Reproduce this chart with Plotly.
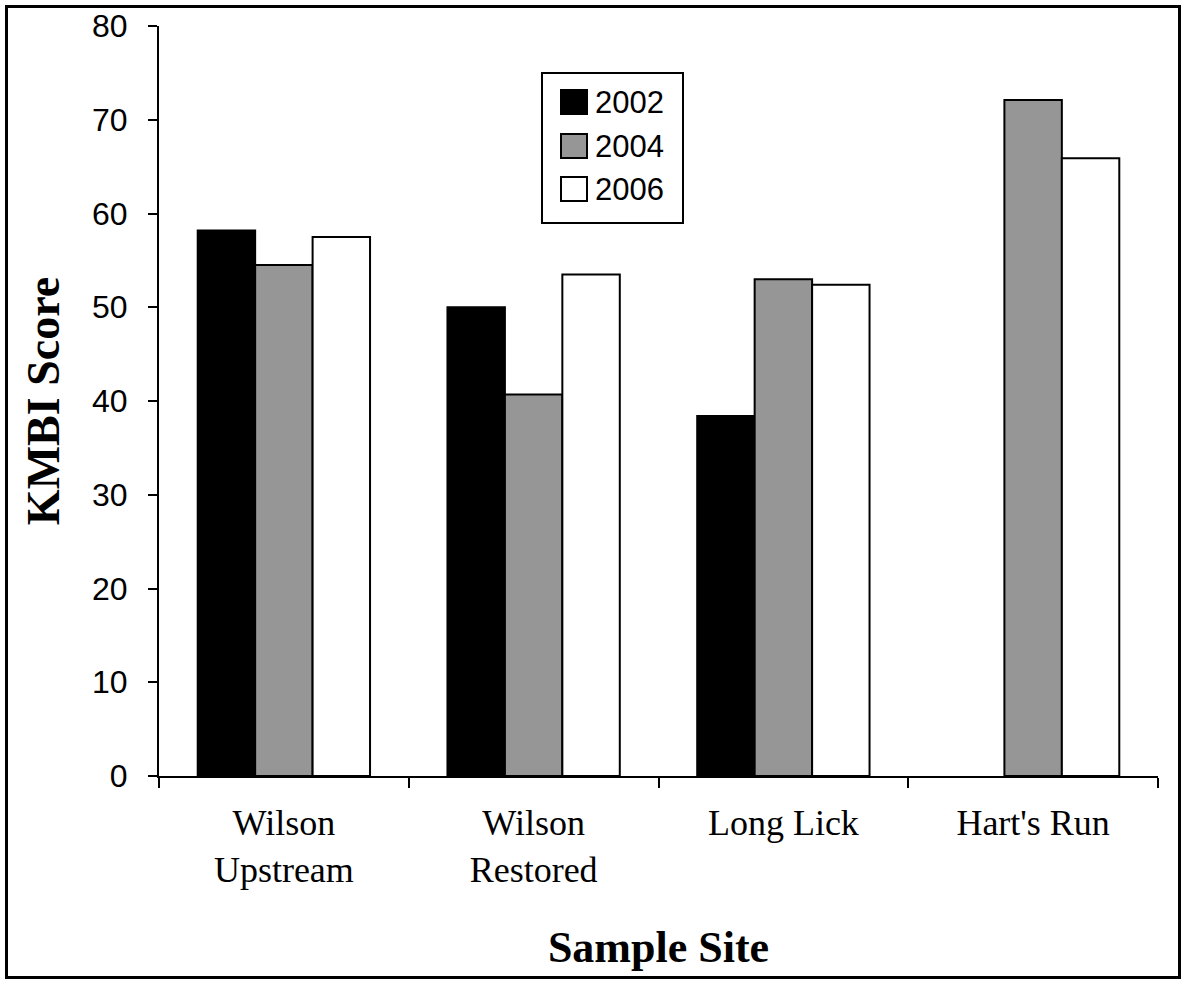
import plotly.graph_objects as go

# KMBI scores by sampling site and year
sites = ["Wilson<br>Upstream", "Wilson<br>Restored", "Long Lick", "Hart's Run"]
years = ["2002", "2004", "2006"]
score_2002 = [58.2, 50.0, 38.4, None]
score_2004 = [54.5, 40.7, 53.0, 72.1]
score_2006 = [57.5, 53.5, 52.4, 65.9]
y_ticks = [0, 10, 20, 30, 40, 50, 60, 70, 80]

series = [score_2002, score_2004, score_2006]
fills = ["#000000", "#969696", "#ffffff"]

W, H = 1182, 981
L, R, T, B = 159, 24, 26, 205
PW, PH = W - L - R, H - T - B


def px(x):
    return (x - L) / PW


def py(y):
    return (H - B - y) / PH


fig = go.Figure()
for name, vals, col in zip(years, series, fills):
    fig.add_trace(go.Bar(
        x=sites, y=vals, name=name,
        marker=dict(color=col, line=dict(color="#000000", width=2)),
        showlegend=False,
    ))

shapes = []
annotations = []

# Legend box with swatches
shapes.append(dict(type="rect", xref="paper", yref="paper",
                   x0=px(542), x1=px(683), y0=py(223), y1=py(73),
                   line=dict(color="#000000", width=2), fillcolor="#ffffff", layer="above"))
for name, col, cy in zip(years, fills, [102, 146, 189]):
    shapes.append(dict(type="rect", xref="paper", yref="paper",
                       x0=px(561), x1=px(587), y0=py(cy + 12), y1=py(cy - 12),
                       line=dict(color="#000000", width=2), fillcolor=col, layer="above"))
    annotations.append(dict(text=name, xref="paper", yref="paper",
                            x=px(593), y=py(cy), xanchor="left", yanchor="middle",
                            showarrow=False,
                            font=dict(family="Liberation Sans", size=31, color="#000000")))

# Outer frame
shapes.append(dict(type="rect", xref="paper", yref="paper",
                   x0=px(6.5), x1=px(1179.5), y0=py(977.5), y1=py(6.5),
                   line=dict(color="#000000", width=3), layer="above"))

fig.update_layout(
    width=W, height=H,
    margin=dict(l=L, r=R, t=T, b=B, autoexpand=False),
    paper_bgcolor="#ffffff", plot_bgcolor="#ffffff",
    barmode="group", bargap=0.31, bargroupgap=0,
    shapes=shapes, annotations=annotations,
    xaxis=dict(
        showline=True, linecolor="#000000", linewidth=2,
        ticks="outside", tickson="boundaries", ticklen=10, tickwidth=2, tickcolor="#000000",
        showgrid=False, zeroline=False,
        tickfont=dict(family="Liberation Serif", size=36, color="#000000"),
        ticklabelstandoff=14,
        title=dict(text="<b>Sample Site</b>", standoff=42,
                   font=dict(family="Liberation Serif", size=44, color="#000000")),
    ),
    yaxis=dict(
        range=[0, 80], tickvals=y_ticks,
        showline=True, linecolor="#000000", linewidth=2,
        ticks="outside", ticklen=9, tickwidth=2, tickcolor="#000000",
        showgrid=False, zeroline=False,
        tickfont=dict(family="Liberation Sans", size=32, color="#000000"),
        ticklabelstandoff=14,
        title=dict(text="<b>KMBI Score</b>", standoff=18,
                   font=dict(family="Liberation Serif", size=46, color="#000000")),
    ),
)

fig.write_html("out.html")
